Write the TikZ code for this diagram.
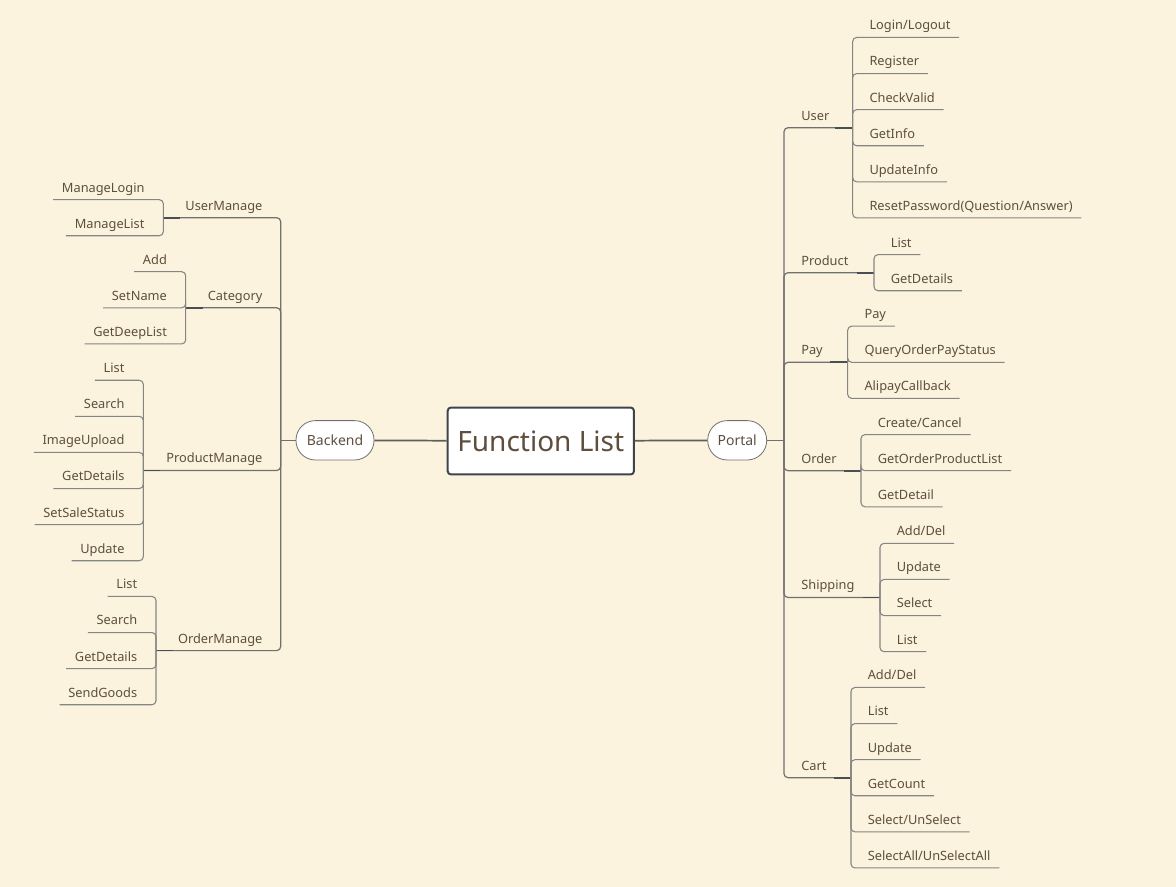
\documentclass[tikz,border=0pt]{standalone}
\usepackage{fontspec}
\setmainfont{Noto Sans}
\usepackage{tikz}
\usetikzlibrary{positioning}

\definecolor{paper}{RGB}{251,243,221}
\definecolor{inkbrown}{RGB}{94,78,62}
\definecolor{linegray}{RGB}{112,112,112}
\definecolor{stubgray}{RGB}{74,79,85}
\definecolor{rootframe}{RGB}{62,68,76}

\tikzset{
  leaf/.style={font=\fontsize{9.6pt}{11pt}\selectfont, text=inkbrown,
    inner xsep=6.4pt, inner ysep=3pt, text height=7.5pt, text depth=2.5pt},
  topic/.style={leaf},
  pill/.style={draw=linegray, fill=white, line width=0.6pt, rounded corners=14.5pt,
    minimum height=29.5pt, inner xsep=4pt, text=inkbrown,
    font=\fontsize{10.5pt}{12pt}\selectfont},
  root/.style={draw=rootframe, fill=white, line width=1.5pt, rounded corners=2.5pt,
    minimum width=139.7pt, minimum height=50.2pt, text=inkbrown,
    font=\fontsize{21pt}{24pt}\selectfont},
  trunk/.style={draw=linegray!85!black, line width=1.3pt},
  branch/.style={draw=linegray, line width=0.9pt, rounded corners=3pt},
  twig/.style={draw=linegray!85, line width=0.8pt, rounded corners=3pt},
  stub/.style={draw=stubgray, line width=1.3pt}
}

\begin{document}
\begin{tikzpicture}[x=0.75pt, y=-0.75pt]
  % page and background
  \useasboundingbox (0,0) rectangle (1176,887);
  \fill[paper] (0,0) rectangle (1176,887);

  % central topic and the two main branches
  \node[root] (root) at (540.8,441) {Function List};
  \node[pill, minimum width=58.5pt] (backend) at (335,440.3) {Backend};
  \node[pill, minimum width=44.2pt] (portal) at (737.2,440.3) {Portal};
  \coordinate (bj) at (280.7,440.3);
  \coordinate (pj) at (784,440.3);
  \draw[trunk] (backend) -- (root);
  \draw[trunk] (root) -- (portal);
  \draw[branch] (portal) -- (pj);
  \draw[branch] (backend) -- (bj);

  % ---------------- Portal side ----------------
  % User
  \coordinate (j-user) at (852.7,127.7);
  \node[topic, anchor=south west] (user) at (792.5,127.7) {User};
  \draw[branch] (pj) |- (j-user);
  \draw[stub] (j-user) -- ++(-17.5,0);
  \foreach \t [count=\i] in {Login/Logout,Register,CheckValid,GetInfo,UpdateInfo,ResetPassword(Question/Answer)} {
    \node[leaf, anchor=south west] (user-\i) at ({852.7+8}, {37.45+36.1*(\i-1)}) {\t};
    \draw[twig] (j-user) |- (user-\i.south east);
  }

  % Product
  \coordinate (j-product) at (874,272.7);
  \node[topic, anchor=south west] (product) at (792.5,272.7) {Product};
  \draw[branch] (pj) |- (j-product);
  \draw[stub] (j-product) -- ++(-17.5,0);
  \foreach \t [count=\i] in {List,GetDetails} {
    \node[leaf, anchor=south west] (product-\i) at ({874+8}, {254.65+36.1*(\i-1)}) {\t};
    \draw[twig] (j-product) |- (product-\i.south east);
  }

  % Pay
  \coordinate (j-pay) at (847.7,362.3);
  \node[topic, anchor=south west] (pay) at (792.5,362.3) {Pay};
  \draw[branch] (pj) |- (j-pay);
  \draw[stub] (j-pay) -- ++(-17.5,0);
  \foreach \t [count=\i] in {Pay,QueryOrderPayStatus,AlipayCallback} {
    \node[leaf, anchor=south west] (pay-\i) at ({847.7+8}, {326.2+36.1*(\i-1)}) {\t};
    \draw[twig] (j-pay) |- (pay-\i.south east);
  }

  % Order
  \coordinate (j-order) at (861,470.7);
  \node[topic, anchor=south west] (order) at (792.5,470.7) {Order};
  \draw[branch] (pj) |- (j-order);
  \draw[stub] (j-order) -- ++(-17.5,0);
  \foreach \t [count=\i] in {Create/Cancel,GetOrderProductList,GetDetail} {
    \node[leaf, anchor=south west] (order-\i) at ({861+8}, {434.6+36.1*(\i-1)}) {\t};
    \draw[twig] (j-order) |- (order-\i.south east);
  }

  % Shipping
  \coordinate (j-ship) at (880,597.5);
  \node[topic, anchor=south west] (ship) at (792.5,597.5) {Shipping};
  \draw[branch] (pj) |- (j-ship);
  \draw[stub] (j-ship) -- ++(-17.5,0);
  \foreach \t [count=\i] in {Add/Del,Update,Select,List} {
    \node[leaf, anchor=south west] (ship-\i) at ({880+8}, {543.35+36.1*(\i-1)}) {\t};
    \draw[twig] (j-ship) |- (ship-\i.south east);
  }

  % Cart
  \coordinate (j-cart) at (851,777.7);
  \node[topic, anchor=south west] (cart) at (792.5,777.7) {Cart};
  \draw[branch] (pj) |- (j-cart);
  \draw[stub] (j-cart) -- ++(-17.5,0);
  \foreach \t [count=\i] in {Add/Del,List,Update,GetCount,Select/UnSelect,SelectAll/UnSelectAll} {
    \node[leaf, anchor=south west] (cart-\i) at ({851+8}, {687.45+36.1*(\i-1)}) {\t};
    \draw[twig] (j-cart) |- (cart-\i.south east);
  }

  % ---------------- Backend side ----------------
  % UserManage
  \coordinate (j-usermgr) at (163.3,217.7);
  \node[topic, anchor=south east] (usermgr) at (271.2,217.7) {UserManage};
  \draw[branch] (bj) |- (j-usermgr);
  \draw[stub] (j-usermgr) -- ++(17,0);
  \foreach \t [count=\i] in {ManageLogin,ManageList} {
    \node[leaf, anchor=south east] (usermgr-\i) at ({163.3-10}, {199.65+36.1*(\i-1)}) {\t};
    \draw[twig] (j-usermgr) |- (usermgr-\i.south west);
  }

  % Category
  \coordinate (j-cat) at (185.7,307.8);
  \node[topic, anchor=south east] (cat) at (271.2,307.8) {Category};
  \draw[branch] (bj) |- (j-cat);
  \draw[stub] (j-cat) -- ++(17,0);
  \foreach \t [count=\i] in {Add,SetName,GetDeepList} {
    \node[leaf, anchor=south east] (cat-\i) at ({185.7-10}, {271.7+36.1*(\i-1)}) {\t};
    \draw[twig] (j-cat) |- (cat-\i.south west);
  }

  % ProductManage
  \coordinate (j-prodmgr) at (143.3,470.5);
  \node[topic, anchor=south east] (prodmgr) at (271.2,470.5) {ProductManage};
  \draw[branch] (bj) |- (j-prodmgr);
  \draw[stub] (j-prodmgr) -- ++(17,0);
  \foreach \t [count=\i] in {List,Search,ImageUpload,GetDetails,SetSaleStatus,Update} {
    \node[leaf, anchor=south east] (prodmgr-\i) at ({143.3-10}, {380.25+36.1*(\i-1)}) {\t};
    \draw[twig] (j-prodmgr) |- (prodmgr-\i.south west);
  }

  % OrderManage
  \coordinate (j-ordmgr) at (156,650.6);
  \node[topic, anchor=south east] (ordmgr) at (271.2,650.6) {OrderManage};
  \draw[branch] (bj) |- (j-ordmgr);
  \draw[stub] (j-ordmgr) -- ++(17,0);
  \foreach \t [count=\i] in {List,Search,GetDetails,SendGoods} {
    \node[leaf, anchor=south east] (ordmgr-\i) at ({156-10}, {596.45+36.1*(\i-1)}) {\t};
    \draw[twig] (j-ordmgr) |- (ordmgr-\i.south west);
  }
\end{tikzpicture}
\end{document}
